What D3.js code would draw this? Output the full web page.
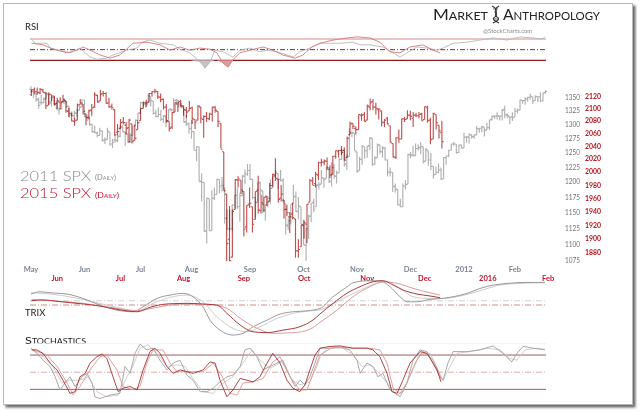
<!DOCTYPE html>
<html lang="en">
<head>
<meta charset="UTF-8">
<title>SPX 2011 vs 2015</title>
<style>
    body { margin: 0; background: #fff; }
    svg { display: block; }
    text { font-family: Lato, "DejaVu Sans", sans-serif; }
</style>
</head>
<body>
<svg id="chart" width="640" height="412"></svg>
<script src="https://d3js.org/d3.v7.min.js"></script>
<script>
// ---- 2011 SPX daily bars (May 2 2011 .. Feb 17 2012), one line per month
const open11 = [
    1365,1361,1356,1345,1340,1340,1348,1355,1339,1349,1336,1326,1328,1342,1342,1333,1317,1316,1320,1326,1332,
    1345,1314,1313,1300,1287,1284,1280,1288,1272,1273,1286,1265,1272,1271,1279,1295,1286,1283,1269,1280,1297,1308,
    1320,1340,1337,1340,1352,1343,1320,1314,1318,1309,1315,1307,1328,1326,1344,1344,1337,1331,1304,1301,
    1293,1287,1254,1260,1201,1199,1121,1172,1121,1173,1179,1204,1193,1190,1140,1124,1124,1162,1177,1159,1177,1209,1213,
    1219,1204,1174,1166,1198,1185,1153,1162,1173,1190,1209,1214,1204,1203,1164,1128,1137,1164,1176,1152,1159,
    1131,1098,1124,1144,1166,1159,1194,1196,1206,1206,1224,1200,1224,1209,1215,1238,1254,1230,1243,1284,1284,
    1251,1219,1238,1260,1253,1262,1275,1230,1241,1263,1251,1257,1237,1217,1216,1192,1187,1162,1159,1193,1196,
    1246,1246,1245,1257,1258,1260,1235,1253,1237,1226,1212,1216,1220,1205,1241,1244,1254,1265,1265,1250,1263,
    1258,1277,1277,1281,1278,1281,1292,1293,1295,1290,1294,1309,1314,1315,1315,1315,1327,1317,1314,1314,
    1313,1324,1326,1344,1344,1347,1350,1351,1344,1351,1351,1343,1359
];
const high11 = [
    1371,1362,1359,1349,1355,1350,1360,1356,1351,1352,1344,1330,1342,1348,1343,1333,1324,1325,1328,1334,1346,
    1345,1318,1313,1301,1298,1287,1294,1289,1277,1294,1286,1274,1280,1281,1298,1298,1287,1284,1284,1297,1309,1321,
    1341,1341,1341,1356,1352,1343,1327,1331,1327,1317,1315,1328,1330,1348,1347,1344,1339,1331,1317,1304,
    1308,1288,1261,1260,1214,1199,1173,1172,1186,1190,1205,1204,1208,1190,1155,1154,1162,1178,1190,1182,1211,1221,1230,
    1230,1204,1175,1198,1200,1185,1163,1176,1204,1209,1220,1214,1220,1206,1164,1141,1163,1195,1184,1175,1159,
    1138,1125,1146,1165,1172,1195,1200,1220,1207,1225,1225,1233,1230,1219,1240,1257,1254,1247,1293,1288,1284,
    1251,1242,1263,1260,1262,1277,1275,1244,1266,1264,1261,1260,1238,1224,1216,1197,1187,1172,1197,1203,1248,
    1251,1262,1266,1264,1268,1260,1258,1253,1249,1226,1226,1231,1224,1242,1245,1255,1266,1269,1265,1264,1264,
    1285,1279,1284,1282,1282,1297,1294,1297,1295,1303,1309,1316,1316,1322,1316,1328,1334,1320,1314,1322,
    1330,1329,1346,1345,1350,1351,1357,1351,1354,1352,1359,1359,1364
];
const low11 = [
    1358,1349,1341,1329,1336,1339,1348,1336,1333,1336,1327,1318,1327,1337,1330,1312,1315,1311,1314,1325,1332,
    1313,1306,1297,1286,1285,1277,1280,1269,1265,1273,1262,1258,1267,1268,1277,1286,1262,1267,1267,1280,1297,1308,
    1319,1333,1331,1340,1333,1318,1313,1314,1306,1303,1295,1307,1323,1322,1336,1331,1329,1303,1297,1283,
    1274,1254,1235,1200,1168,1119,1101,1121,1121,1170,1179,1181,1184,1132,1122,1121,1121,1157,1155,1135,1177,1196,1210,
    1203,1171,1140,1166,1178,1149,1137,1158,1163,1190,1207,1188,1201,1166,1115,1122,1131,1164,1150,1139,1131,
    1099,1075,1108,1134,1150,1159,1187,1196,1190,1206,1198,1192,1205,1197,1215,1238,1226,1220,1243,1277,1253,
    1215,1219,1229,1239,1241,1254,1227,1229,1241,1248,1241,1236,1209,1209,1183,1182,1161,1158,1159,1187,1196,
    1240,1243,1245,1253,1247,1231,1235,1227,1220,1205,1212,1214,1203,1205,1229,1242,1254,1262,1248,1249,1257,
    1258,1267,1266,1274,1274,1281,1285,1286,1278,1290,1290,1307,1310,1309,1307,1307,1311,1311,1300,1306,
    1313,1320,1326,1338,1336,1342,1345,1338,1344,1341,1341,1343,1357
];
const close11 = [
    1361,1357,1347,1335,1340,1346,1357,1342,1349,1338,1330,1329,1341,1344,1333,1317,1316,1321,1326,1331,1345,
    1315,1313,1300,1286,1285,1280,1289,1271,1272,1288,1265,1268,1272,1278,1296,1287,1284,1268,1280,1297,1307,1321,
    1340,1338,1339,1353,1344,1320,1314,1318,1309,1316,1305,1327,1326,1344,1345,1337,1332,1305,1301,1292,
    1287,1254,1260,1200,1199,1120,1173,1121,1173,1179,1204,1193,1194,1141,1124,1124,1162,1178,1159,1177,1210,1213,1219,
    1204,1174,1165,1199,1186,1154,1162,1173,1189,1209,1216,1204,1202,1167,1130,1136,1163,1175,1151,1160,1131,
    1099,1124,1144,1165,1155,1195,1195,1207,1204,1225,1201,1225,1210,1215,1238,1254,1229,1242,1285,1285,1253,
    1218,1238,1261,1253,1261,1276,1229,1240,1264,1252,1258,1237,1216,1216,1193,1188,1162,1159,1193,1195,1247,
    1245,1244,1257,1259,1261,1234,1255,1237,1226,1212,1216,1220,1205,1241,1244,1254,1265,1265,1250,1263,1258,
    1277,1277,1281,1278,1281,1292,1293,1296,1289,1294,1308,1315,1315,1316,1315,1326,1318,1316,1313,1312,
    1324,1326,1345,1344,1347,1350,1352,1343,1352,1351,1343,1358,1361
];

// ---- 2015 SPX daily bars (May 18 2015 .. Dec 9 2015); first bar is day -9 before Jun 1
const start15 = -9;
const open15 = [
    2122,2130,2127,2125,2130,2125,2105,2122,2120,
    2108,2110,2111,2112,2095,2092,2079,2081,2106,2107,2091,2085,2097,2102,2121,2112,2124,2124,2109,2103,2098,2062,
    2068,2078,2073,2069,2075,2049,2066,2080,2100,2109,2110,2124,2127,2127,2118,2115,2102,2079,2070,2094,2107,2111,
    2104,2097,2096,2101,2082,2081,2102,2082,2087,2083,2090,2101,2095,2076,2031,1966,1899,1873,1943,1987,1987,
    1970,1917,1951,1947,1928,1972,1941,1951,1963,1955,1979,1995,1989,1960,1957,1943,1932,1936,1929,1882,1888,
    1919,1921,1954,1986,1982,1995,2014,2015,2016,2004,1996,2024,2031,2033,2033,2022,2058,2076,2068,2066,2088,2090,
    2081,2102,2111,2102,2098,2096,2077,2084,2072,2044,2022,2053,2051,2083,2083,2089,2084,2089,2088,2091,
    2082,2101,2081,2051,2090,2073,2061
];
const high15 = [
    2131,2134,2134,2133,2132,2126,2126,2122,2120,
    2117,2118,2122,2112,2101,2093,2085,2108,2115,2107,2091,2098,2107,2126,2122,2130,2128,2126,2117,2108,2098,2075,
    2083,2086,2078,2083,2075,2074,2081,2100,2111,2114,2125,2128,2132,2128,2124,2116,2107,2079,2094,2110,2111,2114,
    2105,2102,2112,2103,2082,2105,2102,2089,2094,2092,2103,2104,2095,2076,2031,1966,1948,1943,1989,1993,1987,
    1970,1949,1976,1947,1970,1994,1965,1962,1963,1983,1997,2021,1989,1980,1957,1950,1939,1953,1929,1899,1920,
    1927,1951,1989,1992,2000,2016,2020,2019,2022,2010,2025,2033,2034,2040,2038,2055,2079,2076,2071,2090,2092,2094,
    2106,2116,2115,2109,2100,2096,2083,2086,2072,2044,2054,2066,2084,2086,2097,2096,2094,2093,2094,2093,
    2103,2104,2085,2093,2090,2073,2080
];
const low15 = [
    2120,2124,2122,2123,2126,2099,2105,2112,2104,
    2099,2099,2110,2093,2086,2079,2072,2081,2106,2090,2073,2082,2088,2101,2109,2112,2119,2108,2101,2098,2056,2057,
    2067,2074,2058,2045,2044,2049,2066,2080,2100,2102,2110,2119,2124,2115,2110,2098,2077,2063,2067,2094,2094,2102,
    2088,2085,2096,2075,2067,2081,2076,2053,2078,2081,2079,2093,2070,2036,1971,1867,1867,1873,1943,1976,1966,
    1903,1909,1945,1909,1928,1937,1937,1939,1948,1955,1977,1986,1953,1955,1929,1933,1908,1928,1872,1872,1888,
    1900,1893,1954,1980,1976,1987,2008,2010,2003,1990,1996,2020,2022,2026,2017,2022,2058,2067,2058,2066,2080,2079,
    2081,2097,2097,2090,2082,2071,2070,2074,2045,2022,2020,2045,2051,2078,2083,2081,2070,2086,2084,2080,
    2082,2077,2043,2051,2066,2052,2036
];
const close15 = [
    2130,2127,2126,2131,2126,2104,2123,2120,2107,
    2112,2109,2114,2096,2092,2080,2080,2105,2109,2095,2085,2096,2101,2122,2110,2123,2124,2108,2102,2101,2058,2063,
    2077,2077,2068,2081,2047,2052,2077,2100,2109,2107,2124,2127,2128,2119,2114,2102,2080,2068,2093,2109,2109,2104,
    2098,2094,2100,2084,2078,2104,2084,2087,2084,2092,2102,2097,2079,2035,1971,1893,1868,1940,1988,1989,1972,
    1914,1949,1952,1921,1970,1942,1953,1961,1953,1979,1996,1990,1958,1966,1943,1938,1932,1931,1882,1884,1920,
    1923,1951,1987,1979,1996,2014,2015,2017,2004,1995,2024,2033,2033,2030,2018,2052,2075,2071,2066,2090,2089,2079,
    2104,2109,2102,2100,2099,2078,2081,2075,2046,2023,2053,2051,2083,2082,2089,2087,2089,2088,2090,2080,
    2103,2080,2050,2092,2077,2064,2047
];

// ---- indicators as [trading day, value]
const rsi11 = [[0,71],[1.6,62],[6.3,62],[7.5,53],[11.4,49],[15.3,44],[19.2,53],[23.2,36],[25.9,32],[29.8,34],[32.2,40],[37.7,49],[41.6,53],[43.6,64],[46.7,68],[50.6,62],[55.8,59],[58.5,51],[62.4,44],[66.4,27],[68.3,15],[70.3,27],[72.2,49],[75.4,46],[79.3,36],[82.1,49],[86,53],[89.9,46],[92.7,49],[96.6,46],[100.5,40],[102.9,36],[105.6,46],[109.5,53],[113.5,62],[121.3,62],[126.4,64],[129.2,59],[133.1,59],[138.2,55],[142.1,44],[144.9,36],[147.6,44],[151.5,55],[155.5,53],[159.4,49],[161.8,53],[165.7,62],[171.2,64],[176.3,68],[181.4,72],[186.9,68],[192,74],[197.1,72],[200.6,70],[201.8,74]];
const rsi15 = [[-9,62],[-5,59],[-1.5,51],[3.4,44],[6.9,49],[9,55],[11.4,49],[14.9,40],[18.4,34],[21.8,40],[26.4,62],[31.3,64],[35.8,59],[39.3,49],[42.8,55],[46.2,49],[49.7,53],[53.2,51],[55.6,44],[57.7,25],[59.5,17],[61.2,31],[63.6,44],[67.1,49],[71.7,55],[75.1,49],[78.6,40],[82.8,34],[85.6,40],[88.7,55],[91.5,62],[96.1,68],[100.9,72],[104.4,74],[108.9,72],[112.4,64],[115.9,46],[119.4,44],[122.9,55],[127.4,59],[130.9,49],[133.4,44]];

const trix11 = [[0,0.067],[3.5,0.09],[7.5,0.08],[14.1,0.067],[20.4,0.024],[27.1,-0.043],[33.8,-0.093],[40,-0.109],[44,-0.06],[49.5,0.024],[54.6,0.057],[59.7,0.074],[63.6,0.04],[67.5,-0.06],[70.3,-0.192],[74.2,-0.292],[79.3,-0.341],[83.2,-0.324],[87.2,-0.259],[92.7,-0.192],[97.8,-0.132],[102.9,-0.109],[108.4,-0.1],[113.5,-0.076],[118.6,0.04],[124.1,0.139],[126.4,0.179],[131.9,0.199],[137,0.199],[141,0.139],[144.9,0.04],[147.6,-0.01],[151.5,-0.01],[156.7,0.014],[161.8,0.024],[165.7,0.04],[171.2,0.074],[176.3,0.123],[181.4,0.156],[186.9,0.173],[194.7,0.183],[201.8,0.183]];
const trixSig11 = [[0,0.08],[7.5,0.067],[16.5,0.034],[24.3,-0.01],[33.8,-0.066],[41.6,-0.1],[47.9,-0.026],[54.6,0.034],[61.2,0.057],[67.5,-0.01],[73,-0.159],[79.3,-0.275],[84.8,-0.308],[89.9,-0.259],[96.6,-0.175],[102.9,-0.125],[109.5,-0.1],[113.5,-0.09],[121.3,0.007],[129.2,0.106],[135.8,0.173],[139.8,0.189],[144.9,0.123],[150,0.04],[155.5,0.024],[161.8,0.024],[168.4,0.047],[176.3,0.1],[184.1,0.156],[192,0.173],[201.8,0.179]];
const trix15 = [[-9,0.028],[-5,0.033],[0.9,0.022],[9,0.007],[14.9,-0.007],[20.8,-0.028],[27.8,-0.044],[32.3,-0.015],[38.2,0.007],[45.2,0.011],[52.1,0.005],[55.6,0],[59.1,-0.054],[63.7,-0.131],[68.2,-0.175],[73,-0.181],[78.6,-0.164],[84.5,-0.142],[89.1,-0.098],[91.5,-0.059],[96.1,0.011],[100.9,0.077],[105.5,0.12],[110,0.152],[113.5,0.159],[117,0.131],[120.5,0.098],[125.3,0.072],[129.9,0.059],[133.4,0.048]];
const trixSig15 = [[-9,0.037],[-1.5,0.028],[9,0.011],[18.4,-0.015],[27.8,-0.037],[34.7,-0.015],[42.7,0.005],[52.1,0.005],[59.1,-0.022],[63.7,-0.087],[69.6,-0.152],[75.1,-0.185],[82.1,-0.181],[88,-0.159],[91.5,-0.114],[97.5,-0.033],[103,0.054],[108.9,0.12],[113.5,0.152],[118.4,0.142],[124,0.109],[129.9,0.08],[133.4,0.065]];

const stoK11 = [[0,92],[2.4,83],[4.7,71],[7.5,60],[9.4,43],[11.4,19],[13.3,31],[15.3,42],[17.3,25],[20,42],[22,48],[24,31],[25.1,7],[27.1,4],[31,10],[34.9,13],[36.9,60],[38.9,48],[40.8,83],[42.8,99],[45.5,89],[47.9,92],[50.6,71],[53.4,54],[55.8,66],[58.5,71],[61.2,45],[63.6,36],[66.4,16],[69.1,16],[71.5,22],[74.2,33],[77,42],[79.3,45],[82.1,60],[84,89],[86,92],[88.7,77],[91.1,54],[93.8,60],[96.6,66],[98.9,71],[101.7,42],[103.7,25],[105.6,36],[107.6,28],[109.5,42],[111.5,66],[113.5,92],[117.4,92],[121.3,94],[125.2,89],[128,71],[129.2,48],[131.9,66],[134.3,60],[136.2,42],[138.2,48],[141,19],[144.9,7],[147.6,31],[150,71],[152.7,89],[155.5,86],[157.8,66],[160.6,42],[161.8,36],[163.7,66],[165.7,86],[171.2,86],[176.3,89],[181.4,96],[185.3,83],[188.8,68],[190.8,83],[193.2,95],[197.1,92],[201.8,89]];
const stoD11 = [[0.4,89],[4.7,77],[8.6,60],[12.2,31],[15.3,36],[19.2,36],[22.4,42],[25.9,16],[29.8,7],[34.2,10],[37.7,42],[40,60],[42.8,92],[45.9,98],[49.5,83],[53.4,60],[57.3,63],[60.5,60],[63.6,39],[67.5,16],[71.5,13],[75.4,31],[79.3,42],[83.2,66],[86.8,89],[89.9,71],[93.8,57],[98.5,68],[102.5,36],[105.6,28],[109.5,33],[112.3,60],[113.5,77],[116.2,92],[122.5,92],[126.4,80],[130,60],[133.1,63],[136.2,51],[139.8,31],[143.7,10],[146.1,16],[149.6,54],[152.7,83],[156.7,83],[159.8,54],[161.8,36],[164.5,60],[167.3,83],[172.4,86],[179,92],[184.1,89],[188,74],[190.8,71],[194,89],[198.7,92],[201.8,90]];
const stoK15 = [[-9,89],[-7.1,89],[-5,83],[-2.5,66],[-0.1,54],[2,36],[4.4,13],[6.2,16],[7.9,42],[9.7,48],[11.4,66],[13.8,77],[15.6,82],[17.3,74],[19.4,42],[21.2,16],[22.9,22],[25.3,25],[27.8,19],[29.9,54],[32.3,86],[34,92],[35.8,83],[38.2,60],[40.3,48],[42.8,54],[45.2,51],[47.3,48],[50.8,54],[53.2,68],[55,66],[56.7,36],[59.1,7],[61.2,19],[63.7,39],[66.1,36],[68.2,33],[70.6,42],[73.1,66],[75.1,83],[77.6,66],[80,36],[82.1,22],[84.5,16],[86.3,28],[88,54],[89.8,80],[91.5,92],[95,95],[98.5,96],[103,92],[107.9,92],[110,89],[112.4,77],[114.9,48],[116.6,16],[118.4,13],[120.4,36],[122.9,66],[126.4,86],[128.8,83],[130.9,66],[132.3,54],[133.7,33]];
const stoD15 = [[-8.5,89],[-3.6,80],[-0.1,60],[3.4,31],[5.5,10],[7.9,25],[11.4,54],[14.9,77],[17.3,80],[20.8,54],[22.9,25],[26.4,19],[28.8,25],[31.2,66],[33.3,89],[36.8,89],[39.3,66],[41.7,51],[46.2,51],[50.8,51],[54.3,66],[57.5,42],[60.2,13],[62.6,10],[64.7,31],[68.2,33],[71.7,39],[75.1,68],[77.6,77],[81.1,42],[84.5,19],[87,19],[89.1,48],[91.5,80],[96.1,94],[103,92],[108.9,92],[112.4,89],[114.9,66],[117,22],[119.4,13],[121.8,31],[125.3,71],[127.4,86],[130.5,74],[132.6,54],[133.7,39]];

// ---- tick labels
const yTicks11 = [1075,1100,1125,1150,1175,1200,1225,1250,1275,1300,1325,1350];
const yTicks15 = [1880,1900,1920,1940,1960,1980,2000,2020,2040,2060,2080,2100,2120];
const monthNames11 = ["May","Jun","Jul","Aug","Sep","Oct","Nov","Dec","2012","Feb"];
const monthDays11 = [0,21,43,63,86,107,128,149,170,190];
const monthNames15 = ["Jun","Jul","Aug","Sep","Oct","Nov","Dec","2016","Feb"];
const monthDays15 = [0,22,44,65,86,108,128,150,171];

// ---- scales
const x11 = d3.scaleLinear().domain([0, 202]).range([31, 545.5]);
const x15 = d3.scaleLinear().domain([0, 150]).range([57.3, 487.8]);
const y11 = d3.scaleLog().domain([1075, 1350]).range([260.7, 97.3]);
const y15 = d3.scaleLog().domain([1880, 2120]).range([252.3, 96]);
const yRsi = d3.scaleLinear().domain([30, 70]).range([60.3, 39]);
const yTrix11 = d3.scaleLinear().domain([-0.4, 0.2]).range([341, 280.7]);
const yTrix15 = d3.scaleLinear().domain([-0.2, 0.15]).range([335.6, 282.1]);
const ySto = d3.scaleLinear().domain([0, 100]).range([400.8, 343.6]);
const panelX = [30, 546];

const svg = d3.select("#chart");

// frame with shadow
const defs = svg.append("defs");
defs.append("filter").attr("id", "shadow")
    .attr("x", "-5%").attr("y", "-5%").attr("width", "110%").attr("height", "110%")
    .append("feDropShadow")
    .attr("dx", 2.5).attr("dy", 2.5).attr("stdDeviation", 1.2)
    .attr("flood-color", "#444").attr("flood-opacity", 0.8);

svg.append("rect")
    .attr("x", 3.5).attr("y", 3.5).attr("width", 629).attr("height", 401)
    .attr("fill", "#fff").attr("stroke", "#b8b8b8")
    .attr("filter", "url(#shadow)");

// helpers
function hline(y, color, width, dash) {
    svg.append("line")
        .attr("x1", panelX[0]).attr("x2", panelX[1])
        .attr("y1", y).attr("y2", y)
        .attr("stroke", color).attr("stroke-width", width)
        .attr("stroke-dasharray", dash || null);
}
function drawLine(data, x, y, color, width, curve) {
    svg.append("path")
        .datum(data)
        .attr("fill", "none")
        .attr("stroke", color)
        .attr("stroke-width", width)
        .attr("stroke-linejoin", "round")
        .attr("d", d3.line().x(d => x(d[0])).y(d => y(d[1])).curve(curve || d3.curveLinear));
}
function drawBars(o, h, l, c, x, y, offset, color, blend) {
    let p = "";
    c.forEach((v, k) => {
        const xx = x(k + offset);
        p += `M${xx},${y(h[k])}V${y(l[k])}M${xx - 1.7},${y(o[k])}H${xx}M${xx},${y(v)}H${xx + 1.7}`;
    });
    svg.append("path")
        .attr("d", p)
        .attr("fill", "none")
        .attr("stroke", color)
        .attr("stroke-width", 1.15)
        .style("mix-blend-mode", blend || "normal");
}

// ---- title
svg.append("text")
    .attr("x", 433).attr("y", 20)
    .attr("font-family", "'Liberation Serif', serif")
    .attr("font-size", 15).style("font-variant", "small-caps")
    .attr("fill", "#222")
    .attr("textLength", 55).attr("lengthAdjust", "spacingAndGlyphs")
    .text("Market");
svg.append("text")
    .attr("x", 503).attr("y", 20)
    .attr("font-family", "'Liberation Serif', serif")
    .attr("font-size", 15).style("font-variant", "small-caps")
    .attr("fill", "#222")
    .attr("textLength", 97).attr("lengthAdjust", "spacingAndGlyphs")
    .text("Anthropology");
// small helix mark between the words
const helix = svg.append("g").attr("fill", "none").attr("stroke", "#333").attr("stroke-width", 1.1);
helix.append("path").attr("d", "M492,6 C501,10 492,14 497,17 C501,19 497,21 493,23");
helix.append("path").attr("d", "M499,6 C491,10 500,14 495,17 C491,19 495,21 499,23");
helix.append("path").attr("d", "M493,9H498M494,12H497M494,19H498").attr("stroke-width", 0.7);

svg.append("text")
    .attr("x", 483).attr("y", 33)
    .attr("font-size", 6).attr("fill", "#8a8a8a")
    .text("@StockCharts.com");

// ---- RSI panel
svg.append("text").attr("x", 25).attr("y", 30).attr("font-size", 9.5).attr("fill", "#222").text("RSI");
hline(yRsi(70), "#d38b8b", 1);
hline(yRsi(50), "#5a1d1d", 0.9, "5,2,1,2");
hline(yRsi(30), "#8e1b1b", 1.3);

const rsiFill = (x) => d3.area().x(d => x(d[0])).y0(yRsi(30)).y1(d => yRsi(Math.min(d[1], 30)));
svg.append("path").datum(rsi11).attr("fill", "#c4c4c4").attr("d", rsiFill(x11));
svg.append("path").datum(rsi15).attr("fill", "#dc9c9c").attr("d", rsiFill(x15));
drawLine(rsi11, x11, yRsi, "#b9b9b9", 0.9);
drawLine(rsi15, x15, yRsi, "#d47a7a", 0.9);

// ---- price panel
drawBars(open11, high11, low11, close11, x11, y11, 0, "#b0b0b0");
drawBars(open15, high15, low15, close15, x15, y15, start15, "#c05252", "multiply");

svg.selectAll(".ytick11").data(yTicks11).join("text")
    .attr("class", "ytick11")
    .attr("x", 565).attr("y", d => y11(d)).attr("dy", "0.35em")
    .attr("font-size", 7.5).attr("fill", "#707070")
    .attr("textLength", 15).attr("lengthAdjust", "spacingAndGlyphs")
    .text(d => d);
svg.selectAll(".ytick15").data(yTicks15).join("text")
    .attr("class", "ytick15")
    .attr("x", 585).attr("y", d => y15(d)).attr("dy", "0.35em")
    .attr("font-size", 7.5).attr("font-weight", "bold").attr("fill", "#b0151f")
    .attr("textLength", 16).attr("lengthAdjust", "spacingAndGlyphs")
    .text(d => d);

svg.selectAll(".month11").data(monthNames11).join("text")
    .attr("class", "month11")
    .attr("x", (d, k) => x11(monthDays11[k])).attr("y", 272)
    .attr("text-anchor", "middle")
    .attr("font-size", 7.5).attr("font-weight", "bold").attr("fill", "#7b8592")
    .text(d => d);
svg.selectAll(".month15").data(monthNames15).join("text")
    .attr("class", "month15")
    .attr("x", (d, k) => x15(monthDays15[k])).attr("y", 281)
    .attr("text-anchor", "middle")
    .attr("font-size", 7.5).attr("font-weight", "bold").attr("fill", "#c0142c")
    .text(d => d);

// legend
svg.append("text").attr("x", 20).attr("y", 181)
    .attr("font-size", 13.5).attr("font-weight", 300).attr("fill", "#8a8a8a")
    .attr("textLength", 71).attr("lengthAdjust", "spacingAndGlyphs")
    .text("2011 SPX");
svg.append("text").attr("x", 95).attr("y", 180)
    .attr("font-size", 8).style("font-variant", "small-caps").attr("fill", "#8a8a8a")
    .attr("textLength", 21).attr("lengthAdjust", "spacingAndGlyphs")
    .text("(Daily)");
svg.append("text").attr("x", 20).attr("y", 198)
    .attr("font-size", 13.5).attr("font-weight", 300).attr("fill", "#c8102e")
    .attr("textLength", 71).attr("lengthAdjust", "spacingAndGlyphs")
    .text("2015 SPX");
svg.append("text").attr("x", 95).attr("y", 198)
    .attr("font-size", 8).style("font-variant", "small-caps").attr("fill", "#c8102e")
    .attr("textLength", 24).attr("lengthAdjust", "spacingAndGlyphs")
    .text("(Daily)");

// ---- TRIX panel
svg.append("text").attr("x", 25).attr("y", 316).attr("font-size", 9.5).attr("fill", "#222").text("TRIX");
hline(yTrix11(0), "#cfcfcf", 0.9, "6,2,1,2");
hline(yTrix15(0), "#cf7b7b", 0.9, "6,2,1,2");
drawLine(trixSig11, x11, yTrix11, "#cdcdcd", 1, d3.curveMonotoneX);
drawLine(trix11, x11, yTrix11, "#9a9a9a", 1, d3.curveMonotoneX);
drawLine(trixSig15, x15, yTrix15, "#df9c9c", 1, d3.curveMonotoneX);
drawLine(trix15, x15, yTrix15, "#a83a3a", 1, d3.curveMonotoneX);

// ---- Stochastics panel
svg.append("text").attr("x", 25).attr("y", 344)
    .attr("font-size", 10).style("font-variant", "small-caps").attr("fill", "#222")
    .attr("textLength", 61).attr("lengthAdjust", "spacingAndGlyphs")
    .text("Stochastics");
hline(ySto(100), "#eeeeee", 0.8);
hline(ySto(80), "#8e4a4a", 0.9);
hline(ySto(50), "#dba4a4", 0.9, "6,2,1,2");
hline(ySto(20), "#8e4a4a", 0.9);
drawLine(stoD11, x11, ySto, "#cacaca", 0.9);
drawLine(stoK11, x11, ySto, "#a0a0a0", 0.9);
drawLine(stoD15, x15, ySto, "#dc9595", 0.9);
drawLine(stoK15, x15, ySto, "#a83232", 0.9);
</script>
</body>
</html>
